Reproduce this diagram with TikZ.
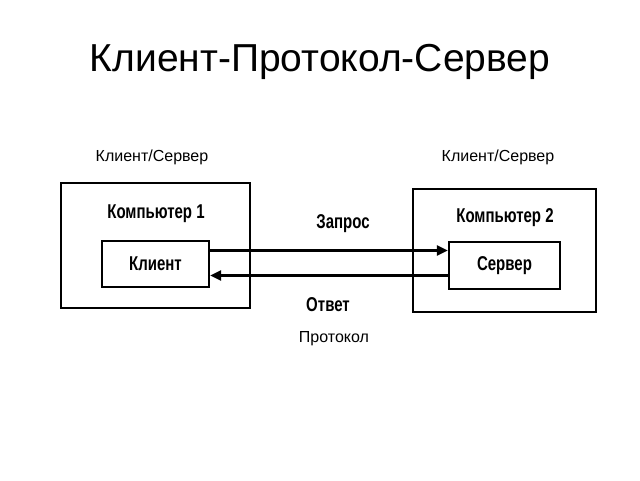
\documentclass[tikz,border=0pt]{standalone}
\usepackage{fontspec}
\setmainfont{Liberation Sans}
\newfontfamily\diagfont[FakeStretch=0.75]{Liberation Sans}
\usetikzlibrary{arrows.meta}
\begin{document}
\begin{tikzpicture}[x=1pt,y=-1pt,
  box/.style={draw,line width=2.3pt,inner sep=0pt},
  dtext/.style={font=\diagfont\bfseries\fontsize{20}{24}\selectfont,inner sep=0pt},
  ltext/.style={font=\fontsize{16}{19}\selectfont,inner sep=0pt},
  conn/.style={line width=2.3pt,-{Triangle[length=11pt,width=10pt]}}]
\useasboundingbox (0,0) rectangle (640,480);
\node[font=\fontsize{39}{44}\selectfont,inner sep=0pt] (title) at (320,62) {Клиент-Протокол-Сервер};
\node[box,minimum width=189pt,minimum height=125pt] (c1) at (155.5,245.5) {};
\node[box,minimum width=183pt,minimum height=123pt] (c2) at (504.5,250.5) {};
\node[box,minimum width=107pt,minimum height=46pt] (k) at (155.5,264) {};
\node[box,minimum width=111pt,minimum height=47pt] (s) at (504.5,265.5) {};
\node[dtext] (c1l) at (156,214) {Компьютер 1};
\node[dtext] (c2l) at (505,218) {Компьютер 2};
\node[dtext] (kl) at (k) {Клиент};
\node[dtext] (sl) at (s) {Сервер};
\node[dtext] (req) at (343,224) {Запрос};
\node[dtext] (resp) at (328,305) {Ответ};
\node[ltext] (l1) at (152,157) {Клиент/Сервер};
\node[ltext] (l2) at (498,157) {Клиент/Сервер};
\node[ltext] (prot) at (334,339) {Протокол};
\coordinate (ya) at (0,250.5);
\coordinate (yb) at (0,275.5);
\draw[conn] (k.east |- ya) -- (s.west |- ya);
\draw[conn] (s.west |- yb) -- (k.east |- yb);
\end{tikzpicture}
\end{document}
